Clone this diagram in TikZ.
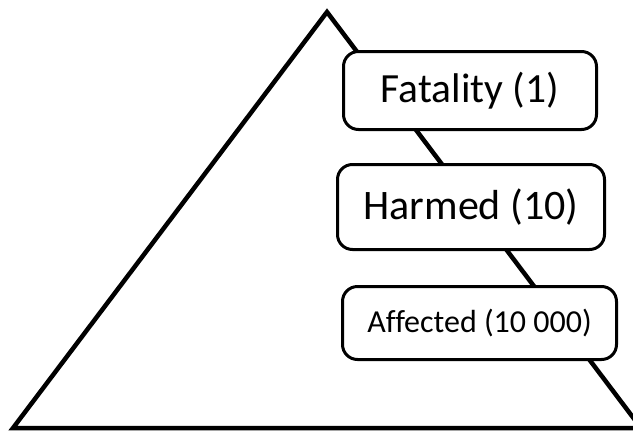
\documentclass[tikz,border=0pt]{standalone}
\usepackage{fontspec}
\setmainfont[Ligatures=CommonOff]{Carlito}
\begin{document}
\begin{tikzpicture}[x=1pt,y=-1pt,
    level/.style={draw,fill=white,line width=3pt,rounded corners=15pt,inner sep=0pt}]
        \useasboundingbox (0,0) rectangle (633,432);
        % pyramid
        \draw[line width=4.5pt] (327,12) coordinate (top) -- (13,428) coordinate (left) -- (641,428) coordinate (right) -- cycle;
        \node[level,minimum width=253pt,minimum height=78pt,font=\fontsize{41.5}{41.5}\selectfont] (fatal) at (470,90.5) {Fatality (1)};
        \node[level,minimum width=267pt,minimum height=85pt,font=\fontsize{42}{42}\selectfont] (harmed) at (471,207) {Harmed (10)};
        \node[level,minimum width=274pt,minimum height=73pt,font=\fontsize{32}{32}\selectfont] (affected) at (479.5,323) {Affected (10 000)};
    \end{tikzpicture}
\end{document}
